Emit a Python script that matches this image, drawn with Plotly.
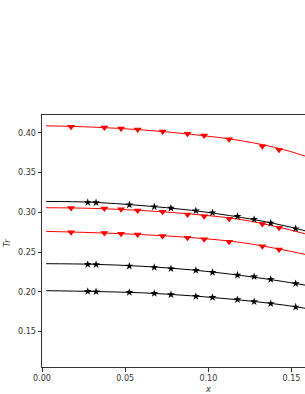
import plotly.graph_objects as go

# Red series (triangle-down markers)
red_x = [0.0175, 0.0375, 0.0475, 0.0575, 0.0725, 0.0875, 0.0975, 0.1125, 0.1325, 0.1425]
red1_y = [0.4075, 0.4066, 0.4055, 0.4042, 0.4016, 0.3987, 0.3966, 0.3920, 0.3832, 0.3786]
red2_y = [0.3055, 0.3049, 0.3040, 0.3024, 0.3007, 0.2974, 0.2952, 0.2920, 0.2852, 0.2806]
red3_y = [0.2751, 0.2739, 0.2731, 0.2722, 0.2701, 0.2680, 0.2660, 0.2631, 0.2572, 0.2534]

# Black series (star markers)
blk_x = [0.0275, 0.0325, 0.0525, 0.0675, 0.0775, 0.0925, 0.1025, 0.1175, 0.1275, 0.1375, 0.1525]
blk1_y = [0.3124, 0.3122, 0.3095, 0.3070, 0.3053, 0.3020, 0.2995, 0.2949, 0.2911, 0.2865, 0.2794]
blk2_y = [0.2345, 0.2344, 0.2324, 0.2308, 0.2291, 0.2270, 0.2245, 0.2211, 0.2191, 0.2157, 0.2103]
blk3_y = [0.2006, 0.2002, 0.1994, 0.1981, 0.1965, 0.1943, 0.1931, 0.1902, 0.1877, 0.1852, 0.1809]

# Fitted curves
fit_x = [0.0025, 0.03, 0.06, 0.09, 0.12, 0.145, 0.165]
red1_fit = [0.4088, 0.4072, 0.4037, 0.3980, 0.3900, 0.3790, 0.3660]
red2_fit = [0.3058, 0.3050, 0.3023, 0.2978, 0.2908, 0.2800, 0.2690]
red3_fit = [0.2760, 0.2745, 0.2720, 0.2682, 0.2620, 0.2528, 0.2440]
blk1_fit = [0.3137, 0.3127, 0.3085, 0.3025, 0.2935, 0.2835, 0.2730]
blk2_fit = [0.2354, 0.2347, 0.2322, 0.2276, 0.2205, 0.2130, 0.2060]
blk3_fit = [0.2015, 0.2005, 0.1988, 0.1950, 0.1895, 0.1835, 0.1770]

y_ticks = [0.15, 0.20, 0.25, 0.30, 0.35, 0.40]
x_ticks = [0.00, 0.05, 0.10, 0.15]

fig = go.Figure()

for fy, col in [(red1_fit, "#ff0000"), (red2_fit, "#ff0000"), (red3_fit, "#ff0000"),
                (blk1_fit, "#000000"), (blk2_fit, "#000000"), (blk3_fit, "#000000")]:
    fig.add_trace(go.Scatter(x=fit_x, y=fy, mode="lines",
                             line=dict(color=col, width=1, shape="spline", smoothing=1.0),
                             hoverinfo="skip", showlegend=False))

for ry in [red1_y, red2_y, red3_y]:
    fig.add_trace(go.Scatter(x=red_x, y=ry, mode="markers",
                             marker=dict(symbol="triangle-down", color="#ff0000", size=7,
                                         line=dict(width=0)),
                             showlegend=False))

for by in [blk1_y, blk2_y, blk3_y]:
    fig.add_trace(go.Scatter(x=blk_x, y=by, mode="markers",
                             marker=dict(symbol="star", color="#000000", size=6,
                                         line=dict(width=0)),
                             showlegend=False))

fig.update_layout(
    width=305, height=394,
    margin=dict(l=42, r=0, t=115, b=27, autoexpand=False),
    paper_bgcolor="white", plot_bgcolor="white",
    font=dict(family="DejaVu Sans", size=8, color="#333333"),
    xaxis=dict(range=[0, 0.1581], tickvals=x_ticks, tickformat=".2f", automargin=False,
               showgrid=False, zeroline=False, showline=True, linecolor="#333333",
               linewidth=1, mirror=True, ticks="outside", ticklen=3.5, tickcolor="#333333"),
    yaxis=dict(range=[0.1055, 0.4224], tickvals=y_ticks, tickformat=".2f", automargin=False,
               showgrid=False, zeroline=False, showline=True, linecolor="#333333",
               linewidth=1, ticks="outside", ticklen=3.5, tickcolor="#333333"),
    annotations=[
        dict(text="<i>x</i>", xref="paper", yref="paper", x=0.63, y=0,
             xanchor="center", yanchor="middle", yshift=-22, showarrow=False,
             font=dict(size=8, color="#333333")),
        dict(text="<i>Tr</i>", xref="paper", yref="paper", x=0, y=0.5,
             xanchor="center", yanchor="middle", xshift=-35, yshift=-2,
             textangle=-90, showarrow=False, font=dict(size=8, color="#333333")),
    ],
)

fig.write_html("out.html", config={"displayModeBar": False},
               post_script="document.body.style.margin='0';document.body.style.overflow='hidden';")
